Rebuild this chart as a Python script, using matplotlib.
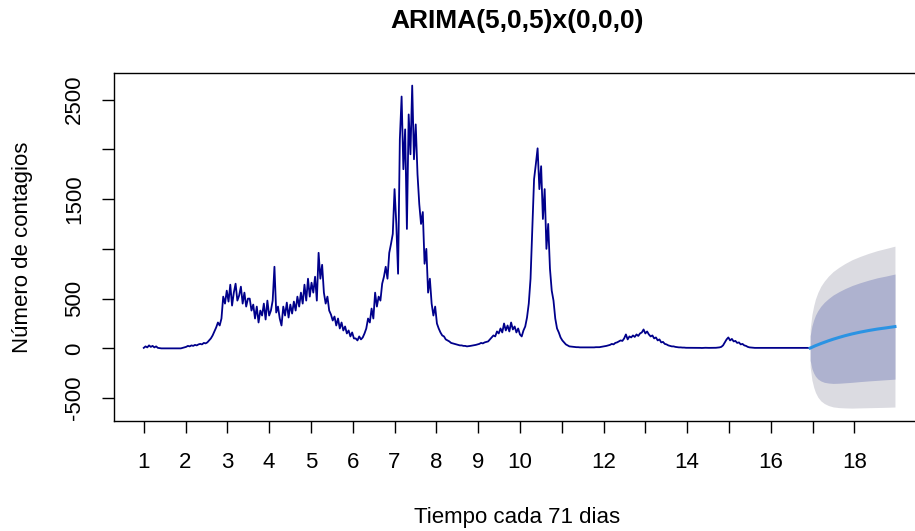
import numpy as np
import matplotlib.pyplot as plt

plt.rcParams['font.family'] = ['Liberation Sans', 'DejaVu Sans']

# contagios diarios, un valor cada 3 dias (71 dias por unidad de tiempo)
obs = [
    5, 20, 10, 30, 15, 25, 10, 20, 5, 2, 0, 0,
    0, 0, 0, 0, 0, 0, 0, 0, 0, 0, 5, 10,
    15, 25, 20, 30, 25, 35, 30, 40, 45, 40, 55, 50,
    60, 80, 100, 130, 170, 210, 260, 230, 300, 520, 450, 580,
    470, 640, 430, 560, 650, 480, 530, 620, 450, 560, 420, 500,
    500, 380, 440, 300, 420, 260, 380, 330, 450, 290, 480, 330,
    380, 480, 820, 360, 420, 300, 230, 420, 330, 460, 310, 440,
    350, 470, 380, 520, 420, 560, 450, 640, 480, 700, 520, 660,
    560, 720, 480, 960, 700, 840, 560, 450, 520, 380, 340, 280,
    320, 230, 300, 200, 260, 180, 220, 150, 180, 120, 160, 100,
    100, 80, 120, 90, 110, 150, 200, 300, 260, 400, 300, 560,
    420, 520, 480, 650, 720, 820, 700, 960, 1050, 1150, 1600, 1250,
    750, 2100, 2530, 1800, 2200, 1200, 2350, 1950, 2640, 1900, 2250, 1750,
    1450, 1250, 1370, 850, 1000, 560, 700, 450, 330, 420, 250, 200,
    160, 130, 120, 90, 80, 70, 55, 50, 45, 40, 35, 30,
    30, 25, 25, 20, 22, 25, 28, 30, 35, 40, 45, 55,
    50, 60, 65, 70, 90, 110, 130, 120, 170, 150, 200, 160,
    250, 180, 230, 170, 260, 190, 220, 160, 200, 140, 120, 180,
    220, 310, 450, 700, 1200, 1700, 1850, 2010, 1600, 1830, 1300, 1600,
    1000, 1250, 800, 580, 480, 300, 200, 160, 110, 80, 60, 40,
    30, 20, 18, 15, 15, 12, 12, 10, 10, 10, 10, 10,
    10, 10, 10, 10, 12, 12, 12, 15, 18, 20, 25, 30,
    35, 45, 40, 55, 60, 70, 80, 75, 100, 140, 90, 120,
    110, 130, 115, 140, 125, 150, 160, 190, 150, 170, 140, 120,
    130, 100, 110, 80, 90, 60, 65, 45, 40, 30, 25, 20,
    20, 15, 12, 10, 10, 8, 8, 6, 6, 5, 5, 5,
    5, 5, 6, 5, 4, 5, 6, 5, 5, 5, 6, 5,
    6, 8, 10, 15, 30, 60, 90, 110, 80, 95, 70, 75,
    55, 60, 40, 45, 30, 25, 15, 10, 8, 6, 5, 5,
    5, 4, 5, 5, 6, 5, 4, 5, 5, 4, 5, 5,
    4, 5, 5, 4, 5, 5, 6, 5, 4, 5, 5, 4,
    5, 4, 5, 5, 4, 5,
]

# pronostico: horizonte en dias, media e intervalos 80% y 95%
fc_h = [1, 4, 7, 10, 14, 19, 25, 32, 40, 50, 60, 72, 85, 100, 115, 130, 145]
fc_mean = [3, 11, 19, 27, 36, 48, 61, 76, 92, 110, 127, 145, 162, 179, 194, 206, 219]
lo80 = [-121, -204, -249, -280, -307, -327, -341, -348, -352, -350, -346, -341, -334, -327, -321, -315, -309]
hi80 = [127, 226, 287, 334, 379, 423, 463, 500, 536, 570, 600, 631, 658, 685, 709, 727, 747]
lo95 = [-187, -319, -391, -443, -489, -527, -554, -574, -588, -595, -598, -600, -598, -596, -594, -592, -589]
hi95 = [193, 341, 429, 497, 561, 623, 676, 726, 772, 815, 852, 890, 922, 954, 982, 1004, 1027]

freq = 71
step = 3
t_obs = 1 + step * np.arange(len(obs)) / freq
t_fc = t_obs[-1] + np.array(fc_h) / freq

W, H = 915, 531
fig = plt.figure(figsize=(W / 100, H / 100), dpi=100)
# axes box in pixels: left, bottom, right, top (right edge runs past the image)
left, bottom, right, top = 113.7, 421.0, 925.0, 72.7
ax = fig.add_axes([left / W, 1 - bottom / H, (right - left) / W, (bottom - top) / H])

ax.fill_between(t_fc, lo95, hi95, color='#dbdbe1', lw=0)
ax.fill_between(t_fc, lo80, hi80, color='#aeb2cf', lw=0)
ax.plot(t_obs, obs, color='#00008b', lw=1.3)
ax.plot(t_fc, fc_mean, color='#2b93e3', lw=2.2)

# R style 4% padding
x0, x1 = t_obs[0], t_fc[-1]
y0, y1 = min(lo95), max(obs)
ax.set_xlim(x0 - 0.04 * (x1 - x0), x1 + 0.04 * (x1 - x0))
ax.set_ylim(y0 - 0.04 * (y1 - y0), y1 + 0.04 * (y1 - y0))

xt = np.arange(1, 19)
ax.set_xticks(xt)
ax.set_xticklabels([str(v) if (v <= 10 or v % 2 == 0) else '' for v in xt])
yt = np.arange(-500, 3000, 500)
ax.set_yticks(yt)
ax.set_yticklabels([str(v) if v not in (1000, 2000) else '' for v in yt],
                   rotation=90, va='center')

ax.tick_params(axis='both', length=8.6, width=1, labelsize=16, colors='#000000')
ax.tick_params(axis='x', pad=14)
ax.tick_params(axis='y', pad=12)
for s in ax.spines.values():
    s.set_linewidth(1)

fig.text(517 / W, 1 - 21 / H, 'ARIMA(5,0,5)x(0,0,0)', ha='center', va='center',
         fontsize=19, fontweight='bold')
fig.text(517 / W, 1 - 518 / H, 'Tiempo cada 71 dias', ha='center', va='center', fontsize=16)
fig.text(23 / W, 1 - 247 / H, 'Número de contagios', ha='center', va='center',
         fontsize=16, rotation=90)

fig.savefig('out.png', dpi=100)
